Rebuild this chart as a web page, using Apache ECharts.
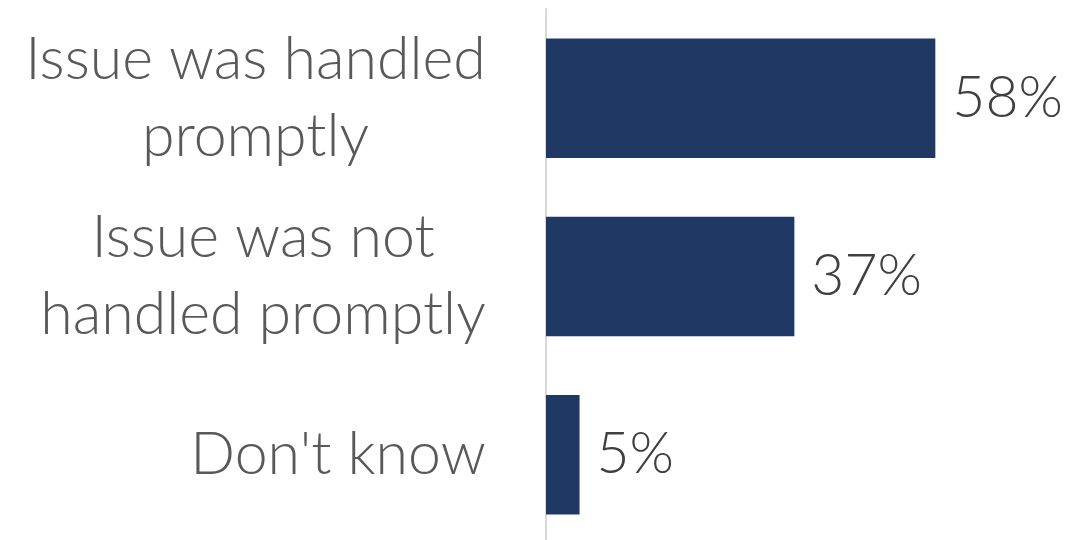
<!DOCTYPE html>
<html><head><meta charset="utf-8">
<script src="https://cdn.jsdelivr.net/npm/echarts@6/dist/echarts.min.js"></script>
<style>html,body{margin:0;padding:0;background:#fff}#c{width:1086px;height:540px}</style>
</head><body><div id="c"></div>
<script>
const categories = ["Issue was handled\npromptly", "Issue was not\nhandled promptly", "Don't know"];
const values = [58, 37, 5];

const FONT_SIZE = 59, FONT_FAMILY = 'Lato', FONT_WEIGHT = 300;
const ctx = document.createElement('canvas').getContext('2d');
ctx.font = FONT_WEIGHT + ' ' + FONT_SIZE + 'px ' + FONT_FAMILY;
const rich = {};
categories.forEach((c, i) => {
  const w = Math.max(...c.split('\n').map(l => ctx.measureText(l).width));
  rich['c' + i] = { width: Math.ceil(w), align: 'center', color: '#595959', fontFamily: FONT_FAMILY, fontWeight: FONT_WEIGHT, fontSize: FONT_SIZE, lineHeight: 77 };
});

const chart = echarts.init(document.getElementById('c'));
chart.setOption({
  animation: false,
  grid: { left: 546, right: 3, top: 9, bottom: -4, containLabel: false, outerBoundsMode: 'none' },
  xAxis: { type: 'value', min: 0, max: 80, show: false },
  yAxis: {
    type: 'category', data: categories, inverse: true,
    axisLine: { show: true, lineStyle: { color: '#d9d9d9', width: 2 } },
    axisTick: { show: false },
    axisLabel: {
      margin: 60, align: 'right', lineHeight: 77,
      color: '#595959', fontFamily: FONT_FAMILY, fontWeight: FONT_WEIGHT, fontSize: FONT_SIZE,
      formatter: (v, i) => v.split('\n').map(l => '{c' + i + '|' + l + '}').join('\n'),
      rich: rich
    }
  },
  series: [{
    type: 'bar', data: values, barWidth: '67%',
    itemStyle: { color: '#203864' },
    label: { show: true, position: 'right', distance: 17, formatter: '{c}%', color: '#404040', fontFamily: FONT_FAMILY, fontWeight: FONT_WEIGHT, fontSize: 57 }
  }]
});
</script></body></html>
